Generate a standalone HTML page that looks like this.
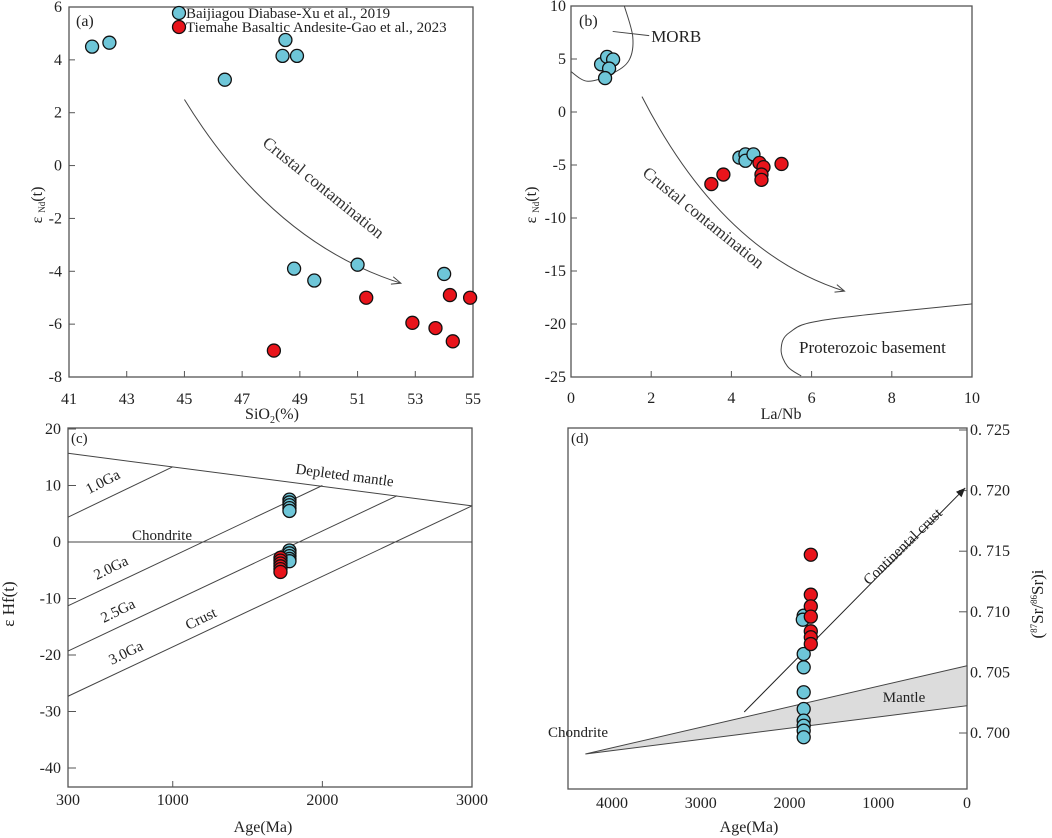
<!DOCTYPE html>
<html><head><meta charset="utf-8"><style>
html,body{margin:0;padding:0;background:#fff;}
svg{display:block;font-family:"Liberation Serif",serif;}
</style></head><body>
<svg id="fig" width="1052" height="838" viewBox="0 0 1052 838" xmlns="http://www.w3.org/2000/svg">
<g id="root"></g>
</svg>
<script>
// ---------- DATA ----------
const aBlueX=[41.8,42.4,46.4,48.4,48.5,48.9,48.8,49.5,51.0,54.0];
const aBlueY=[4.5,4.65,3.25,4.15,4.75,4.15,-3.9,-4.35,-3.75,-4.1];
const aRedX=[48.1,51.3,52.9,53.7,54.2,54.3,54.9];
const aRedY=[-7.0,-5.0,-5.95,-6.15,-4.9,-6.65,-5.0];
const aXTicks=[41,43,45,47,49,51,53,55];
const aYTicks=[6,4,2,0,-2,-4,-6,-8];

const bBlueX=[0.75,0.9,1.05,0.95,0.85,4.2,4.35,4.35,4.55];
const bBlueY=[4.5,5.2,4.95,4.1,3.2,-4.3,-4.0,-4.6,-4.0];
const bRedX=[3.5,3.8,4.7,4.8,4.75,4.75,5.25];
const bRedY=[-6.8,-5.9,-4.8,-5.2,-5.9,-6.4,-4.9];
const bXTicks=[0,2,4,6,8,10];
const bYTicks=[10,5,0,-5,-10,-15,-20,-25];
const morbX=[0,0.42,1.04,1.45,1.54,1.33];
const morbY=[3.8,2.9,3.65,4.9,7.1,10];
const basementX=[10,6.36,5.45,5.24,5.4,5.74];
const basementY=[-18.1,-19.6,-20.8,-22.4,-24.0,-24.9];

const cBlueAge=[1780,1780,1780,1780,1780,1780,1780,1780,1780,1780];
const cBlueHf=[7.5,7.0,6.5,6.0,5.5,-1.5,-2.0,-2.5,-3.0,-3.4];
const cRedAge=[1720,1720,1720,1720,1720,1720];
const cRedHf=[-2.8,-3.3,-3.8,-4.3,-4.8,-5.3];
const cXTicks=[300,1000,2000,3000];
const cYTicks=[20,10,0,-10,-20,-30,-40];
const dmAge=[300,3000], dmHf=[15.7,6.4];
const crustStartHf=[4.4,-11.3,-19.3,-27.3];
const crustEndAge=[1000,2000,2500,3000];
const crustEndHf=[13.3,10.0,8.2,6.4];

const dBlueAge=[1840,1850,1840,1840,1840,1840,1840,1840,1840,1840];
const dBlueSr=[0.70968,0.70935,0.70652,0.70542,0.70336,0.70198,0.70102,0.7006,0.70019,0.69965];
const dRedAge=[1760,1760,1760,1760,1760,1760,1760];
const dRedSr=[0.71471,0.71141,0.71045,0.7096,0.70839,0.7079,0.70734];
const dXTicks=[4000,3000,2000,1000,0];
const dYTicks=[0.725,0.720,0.715,0.710,0.705,0.700];
const dYTickLabels=["0. 725","0. 720","0. 715","0. 710","0. 705","0. 700"];

// ---------- SCALES ----------
const ax=v=>69+(v-41)/14*404, ay=v=>7+(6-v)/14*370;
const bx=v=>571+v/10*401, by=v=>6+(10-v)/35*371;
const cx=v=>68+(v-300)/2700*404, cy=v=>542-v*5.65;
const dx=v=>967-v/1000*88.75, dy=v=>733-(v-0.7)/0.005*60.6;

const NS="http://www.w3.org/2000/svg";
const root=document.getElementById('root');
function el(tag,attrs,parent){const e=document.createElementNS(NS,tag);for(const k in attrs)e.setAttribute(k,attrs[k]);(parent||root).appendChild(e);return e;}
function txt(s,attrs,parent){const e=el('text',attrs,parent);e.textContent=s;return e;}
const BLUE="#6ec6d8", RED="#e8141b";
const TF=16;

function arrowHead(x1,y1,x2,y2,filled,parent){
  const a=Math.atan2(y2-y1,x2-x1),L=10,w=0.4;
  const p1=[x2-L*Math.cos(a-w),y2-L*Math.sin(a-w)],p2=[x2-L*Math.cos(a+w),y2-L*Math.sin(a+w)];
  if(filled){return el('polygon',{points:`${x2},${y2} ${p1} ${p2}`,fill:'#222'},parent);}
  return el('path',{d:`M${p1}L${x2},${y2}L${p2}`,fill:'none',stroke:'#444','stroke-width':1},parent);
}
function curveThrough(s,m,e){const c=[(4*m[0]-s[0]-e[0])/2,(4*m[1]-s[1]-e[1])/2];return {d:`M${s}Q${c} ${e}`,c};}

// ================= PANEL A =================
const ga=el('g',{});


let f=el('rect',{x:69,y:7,width:404,height:370,fill:'none',stroke:'#555','stroke-width':1.3},ga);


aYTicks.forEach(v=>{
  el('line',{x1:69,y1:ay(v),x2:75,y2:ay(v),stroke:'#555'},ga);
  const t=txt(String(v),{x:62,y:ay(v)+5,'text-anchor':'end','font-size':TF,fill:'#222'},ga);
  
  
});
aXTicks.forEach(v=>{
  el('line',{x1:ax(v),y1:377,x2:ax(v),y2:371,stroke:'#555'},ga);
  const t=txt(String(v),{x:ax(v),y:404,'text-anchor':'middle','font-size':TF,fill:'#222'},ga);
  
  
});
let t=txt('(a)',{x:76,y:26,'font-size':16,fill:'#222'},ga);


t=el('text',{x:272,y:419,'text-anchor':'middle','font-size':16,fill:'#222'},ga);
t.innerHTML='SiO<tspan font-size="10" dy="4">2</tspan><tspan dy="-4">(%)</tspan>';


t=el('text',{transform:'translate(42,205) rotate(-90)','text-anchor':'middle','font-size':16,fill:'#222'},ga);
t.innerHTML='ε <tspan font-size="9" dy="3">Nd</tspan><tspan dy="-3">(t)</tspan>';


{const s=[ax(45),ay(2.5)],m=[ax(48.4),ay(-1.95)],e=[ax(52.5),ay(-4.45)];const cv=curveThrough(s,m,e);
 const p=el('path',{d:cv.d,fill:'none',stroke:'#444','stroke-width':1},ga);
 
 
 arrowHead(cv.c[0],cv.c[1],e[0],e[1],false,ga);}
t=txt('Crustal contamination',{transform:'translate(320,192) rotate(39)','text-anchor':'middle','font-size':17,fill:'#333'},ga);


aBlueX.forEach((v,i)=>{const c=el('circle',{cx:ax(v),cy:ay(aBlueY[i]),r:6.5,fill:BLUE,stroke:'#111','stroke-width':1.3},ga);
 
 });
aRedX.forEach((v,i)=>{const c=el('circle',{cx:ax(v),cy:ay(aRedY[i]),r:6.5,fill:RED,stroke:'#111','stroke-width':1.3},ga);
 
 });
// legend
let lg=el('g',{},ga);


let lc=el('circle',{cx:179,cy:13,r:6.5,fill:BLUE,stroke:'#111','stroke-width':1.3},lg);


t=txt('Baijiagou Diabase-Xu et al., 2019',{x:186,y:18,'font-size':15,fill:'#222'},lg);


lc=el('circle',{cx:179,cy:27,r:6.5,fill:RED,stroke:'#111','stroke-width':1.3},lg);


t=txt('Tiemahe Basaltic Andesite-Gao et al., 2023',{x:186,y:32,'font-size':15,fill:'#222'},lg);



// ================= PANEL B =================
const gb=el('g',{});


f=el('rect',{x:571,y:6,width:401,height:371,fill:'none',stroke:'#555','stroke-width':1.3},gb);


bYTicks.forEach(v=>{
  el('line',{x1:571,y1:by(v),x2:577,y2:by(v),stroke:'#555'},gb);
  const t=txt(String(v),{x:566,y:by(v)+5,'text-anchor':'end','font-size':TF,fill:'#222'},gb);
  
  
});
bXTicks.forEach(v=>{
  el('line',{x1:bx(v),y1:377,x2:bx(v),y2:371,stroke:'#555'},gb);
  const t=txt(String(v),{x:bx(v),y:403,'text-anchor':'middle','font-size':TF,fill:'#222'},gb);
  
  
});
t=txt('(b)',{x:579,y:26,'font-size':16,fill:'#222'},gb);


t=txt('La/Nb',{x:781,y:419,'text-anchor':'middle','font-size':16,fill:'#222'},gb);


t=el('text',{transform:'translate(536,205) rotate(-90)','text-anchor':'middle','font-size':16,fill:'#222'},gb);
t.innerHTML='ε <tspan font-size="9" dy="3">Nd</tspan><tspan dy="-3">(t)</tspan>';


function smoothPath(xs,ys,sx,sy){const P=xs.map((v,i)=>[sx(v),sy(ys[i])]);let d=`M${P[0]}`;for(let i=1;i<P.length;i++){const p0=P[Math.max(0,i-2)],p1=P[i-1],p2=P[i],p3=P[Math.min(P.length-1,i+1)];
 const c1=[p1[0]+(p2[0]-p0[0])/6,p1[1]+(p2[1]-p0[1])/6],c2=[p2[0]-(p3[0]-p1[0])/6,p2[1]-(p3[1]-p1[1])/6];d+=`C${c1} ${c2} ${p2}`;}return d;}
let p=el('path',{d:smoothPath(morbX,morbY,bx,by),fill:'none',stroke:'#444','stroke-width':1},gb);


p=el('line',{x1:bx(1.04),y1:by(7.6),x2:bx(1.95),y2:by(7.2),stroke:'#444'},gb);


t=txt('MORB',{x:bx(2.0),y:by(6.6),'font-size':17,fill:'#222'},gb);


p=el('path',{d:smoothPath(basementX,basementY,bx,by),fill:'none',stroke:'#444','stroke-width':1},gb);


t=txt('Proterozoic basement',{x:799,y:353,'font-size':17,fill:'#222'},gb);


{const s=[bx(1.77),by(1.45)],m=[bx(4.03),by(-10.5)],e=[bx(6.82),by(-16.9)];const cv=curveThrough(s,m,e);
 const p=el('path',{d:cv.d,fill:'none',stroke:'#444','stroke-width':1},gb);
 
 
 arrowHead(cv.c[0],cv.c[1],e[0],e[1],false,gb);}
t=txt('Crustal contamination',{transform:'translate(700,222) rotate(39)','text-anchor':'middle','font-size':17,fill:'#333'},gb);


bBlueX.forEach((v,i)=>{const c=el('circle',{cx:bx(v),cy:by(bBlueY[i]),r:6.5,fill:BLUE,stroke:'#111','stroke-width':1.3},gb);
 
 });
bRedX.forEach((v,i)=>{const c=el('circle',{cx:bx(v),cy:by(bRedY[i]),r:6.5,fill:RED,stroke:'#111','stroke-width':1.3},gb);
 
 });

// ================= PANEL C =================
const gc=el('g',{});


f=el('rect',{x:68,y:428,width:404,height:359,fill:'none',stroke:'#555','stroke-width':1.3},gc);


cYTicks.forEach(v=>{
  el('line',{x1:68,y1:cy(v),x2:76,y2:cy(v),stroke:'#555'},gc);
  const t=txt(String(v),{x:61,y:cy(v)+5,'text-anchor':'end','font-size':TF,fill:'#222'},gc);
  
  
});
cXTicks.forEach(v=>{
  el('line',{x1:cx(v),y1:787,x2:cx(v),y2:781,stroke:'#555'},gc);
  const t=txt(String(v),{x:cx(v),y:805,'text-anchor':'middle','font-size':TF,fill:'#222'},gc);
  
  
});
t=txt('(c)',{x:71,y:443,'font-size':15,fill:'#222'},gc);


t=txt('Age(Ma)',{x:263,y:832,'text-anchor':'middle','font-size':16,fill:'#222'},gc);


t=txt('ε Hf(t)',{transform:'translate(14,604) rotate(-90)','text-anchor':'middle','font-size':17,fill:'#222'},gc);


p=el('line',{x1:cx(dmAge[0]),y1:cy(dmHf[0]),x2:cx(dmAge[1]),y2:cy(dmHf[1]),stroke:'#444'},gc);


p=el('line',{x1:68,y1:cy(0),x2:472,y2:cy(0),stroke:'#444'},gc);


crustEndAge.forEach((a,i)=>{const l=el('line',{x1:cx(300),y1:cy(crustStartHf[i]),x2:cx(a),y2:cy(crustEndHf[i]),stroke:'#444'},gc);
 
 });
[['1.0Ga',105,486,-27],['2.0Ga',113,572,-26],['2.5Ga',120,615,-26],['3.0Ga',128,657,-26],['Crust',203,623,-26]].forEach(q=>{
 const t=txt(q[0],{transform:`translate(${q[1]},${q[2]}) rotate(${q[3]})`,'text-anchor':'middle','font-size':15,fill:'#222'},gc);
 
 });
t=txt('Chondrite',{x:162,y:540,'text-anchor':'middle','font-size':15,fill:'#222'},gc);


t=txt('Depleted mantle',{transform:'translate(344,480) rotate(7.5)','text-anchor':'middle','font-size':15,fill:'#222'},gc);


cBlueAge.forEach((v,i)=>{const c=el('circle',{cx:cx(v),cy:cy(cBlueHf[i]),r:6.5,fill:BLUE,stroke:'#111','stroke-width':1.3},gc);
 
 });
cRedAge.forEach((v,i)=>{const c=el('circle',{cx:cx(v),cy:cy(cRedHf[i]),r:6.5,fill:RED,stroke:'#111','stroke-width':1.3},gc);
 
 });

// ================= PANEL D =================
const gd=el('g',{});


f=el('rect',{x:568,y:428,width:399,height:361,fill:'none',stroke:'#555','stroke-width':1.3},gd);


dYTicks.forEach((v,i)=>{
  el('line',{x1:959,y1:dy(v),x2:967,y2:dy(v),stroke:'#555'},gd);
  const t=txt(dYTickLabels[i],{x:970,y:dy(v)+5,'font-size':TF,fill:'#222'},gd);
  
  
});
dXTicks.forEach(v=>{
  const t=txt(String(v),{x:dx(v),y:808,'text-anchor':'middle','font-size':TF,fill:'#222'},gd);
  
  
});
t=txt('(d)',{x:571,y:443,'font-size':15,fill:'#222'},gd);


t=txt('Age(Ma)',{x:749,y:832,'text-anchor':'middle','font-size':16,fill:'#222'},gd);


t=el('text',{transform:'translate(1043,604) rotate(-90)','text-anchor':'middle','font-size':17,fill:'#222'},gd);
t.innerHTML='(<tspan font-size="9" dy="-6">87</tspan><tspan dy="6">Sr/</tspan><tspan font-size="9" dy="-6">86</tspan><tspan dy="6">Sr)i</tspan>';


p=el('polygon',{points:`${dx(4300)},${dy(0.69827)} ${dx(0)},${dy(0.70555)} ${dx(0)},${dy(0.70225)}`,fill:'#dcdcdc',stroke:'#444','stroke-width':1},gd);


p=el('line',{x1:dx(2510),y1:dy(0.70173),x2:dx(20),y2:dy(0.72022),stroke:'#222','stroke-width':1},gd);


arrowHead(dx(2510),dy(0.70173),dx(20),dy(0.72022),true,gd);
t=txt('Continental crust',{transform:'translate(906,550) rotate(-44)','text-anchor':'middle','font-size':15,fill:'#222'},gd);


t=txt('Mantle',{x:904,y:702,'text-anchor':'middle','font-size':15,fill:'#222'},gd);


t=txt('Chondrite',{x:578,y:737,'text-anchor':'middle','font-size':15,fill:'#222'},gd);


dBlueAge.forEach((v,i)=>{const c=el('circle',{cx:dx(v),cy:dy(dBlueSr[i]),r:6.5,fill:BLUE,stroke:'#111','stroke-width':1.3},gd);
 
 });
dRedAge.forEach((v,i)=>{const c=el('circle',{cx:dx(v),cy:dy(dRedSr[i]),r:6.5,fill:RED,stroke:'#111','stroke-width':1.3},gd);
 
 });
</script>
</body></html>
